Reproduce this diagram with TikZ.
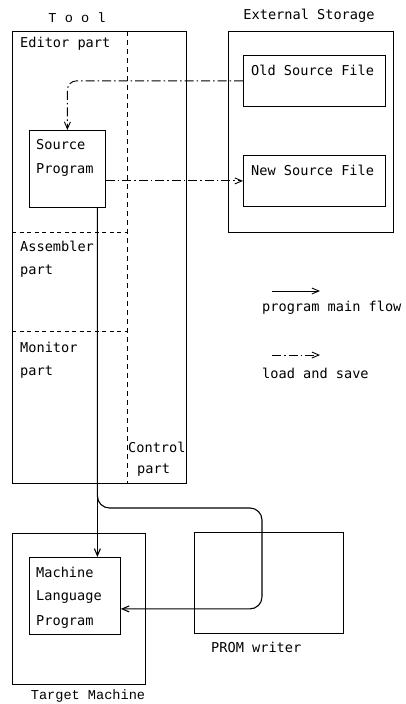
\documentclass[tikz,border=0pt]{standalone}
\usepackage{fontspec}
\setmonofont{DejaVu Sans Mono}
\newfontfamily\serifmono{Liberation Mono}
\usetikzlibrary{arrows.meta,calc}
\tikzset{
  box/.style={draw, line width=0.8pt, anchor=north west, inner sep=0pt},
  lbl/.style={anchor=west, inner sep=0pt},
  divider/.style={line width=0.7pt, dash pattern=on 4pt off 3.5pt},
  flow/.style={line width=1.1pt, -{Straight Barb[length=7pt,width=6pt]}},
  loadsave/.style={line width=0.9pt, dash pattern=on 9pt off 3pt on 1.5pt off 3pt, -{Straight Barb[length=7pt,width=6pt]}},
}
\begin{document}
\begin{tikzpicture}[x=1pt,y=-1pt, font=\ttfamily\fontsize{13.6}{16}\selectfont]
\useasboundingbox (0,0) rectangle (405,704);
% containers
\node[box, minimum width=174, minimum height=452] (tool) at (12,31) {};
\node[box, minimum width=165, minimum height=201] (ext) at (228,31) {};
\node[box, minimum width=142, minimum height=51] (old) at (243,55) {};
\node[box, minimum width=142, minimum height=51] (new) at (243,155) {};
\node[box, minimum width=76, minimum height=77] (src) at (29,130) {};
\node[box, line width=0.7pt, minimum width=133, minimum height=151] (tgt) at (12,533) {};
\node[box, minimum width=91, minimum height=77] (mlp) at (29,557) {};
\node[box, line width=0.7pt, minimum width=149, minimum height=101] (prom) at (194,532) {};
% titles
\node[font=\serifmono\fontsize{13.6}{16}\selectfont] (tooltitle) at (77,18) {T o o l};
\node (exttitle) at (309,16) {External Storage};
\node[font=\serifmono\fontsize{13.6}{16}\selectfont] (tgttitle) at (88,696) {Target Machine};
\node[lbl] (promtitle) at (211,647) {PROM writer};
% texts
\node[lbl] (t1) at (20,44) {Editor part};
\node[lbl] (t2) at (20,246) {Assembler};
\node[lbl] (t3) at (20,271) {part};
\node[lbl] (t4) at (20,347) {Monitor};
\node[lbl] (t5) at (20,372) {part};
\node[lbl] (t6) at (128,447) {Control};
\node[lbl] (t7) at (137,470) {part};
\node[lbl] (t8) at (251,70) {Old Source File};
\node[lbl] (t9) at (251,170) {New Source File};
\node[lbl] (t10) at (36,145) {Source};
\node[lbl] (t11) at (36,170) {Program};
\node[lbl] (t12) at (36,572) {Machine};
\node[lbl] (t13) at (36,597) {Language};
\node[lbl] (t14) at (36,622) {Program};
\node[lbl] (t15) at (262,308) {program main flow};
\node[lbl] (t16) at (262,373) {load and save};
% dividers
\coordinate (ctop) at (127,31);
\coordinate (cbot) at (127,483);
\draw[line width=0.7pt, dash pattern=on 5pt off 4pt] (ctop) -- (cbot);
\draw[divider] (tool.west |- 0,232) -- (ctop |- 0,232);
\draw[divider] (tool.west |- 0,331) -- (ctop |- 0,331);
% load and save
\draw[loadsave, rounded corners=9pt] (old.west) -| (src.north);
\draw[loadsave] (src.east |- new.west) -- (new.west);
% main flow
\path (src.south) ++(30,0) coordinate (s1);
\coordinate (c1) at (262,508);
\path (mlp.east) ++(0,13) coordinate (mlpin);
\draw[flow] (s1) -- (s1 |- mlp.north);
\draw[flow, rounded corners=12pt] (s1) |- (c1) |- (mlpin);
% legend
\coordinate (la) at (272,291);
\coordinate (lb) at (320,291);
\coordinate (lc) at (272,355);
\coordinate (ld) at (320,355);
\draw[flow, line width=0.9pt] (la) -- (lb);
\draw[loadsave] (lc) -- (ld);
\end{tikzpicture}
\end{document}
